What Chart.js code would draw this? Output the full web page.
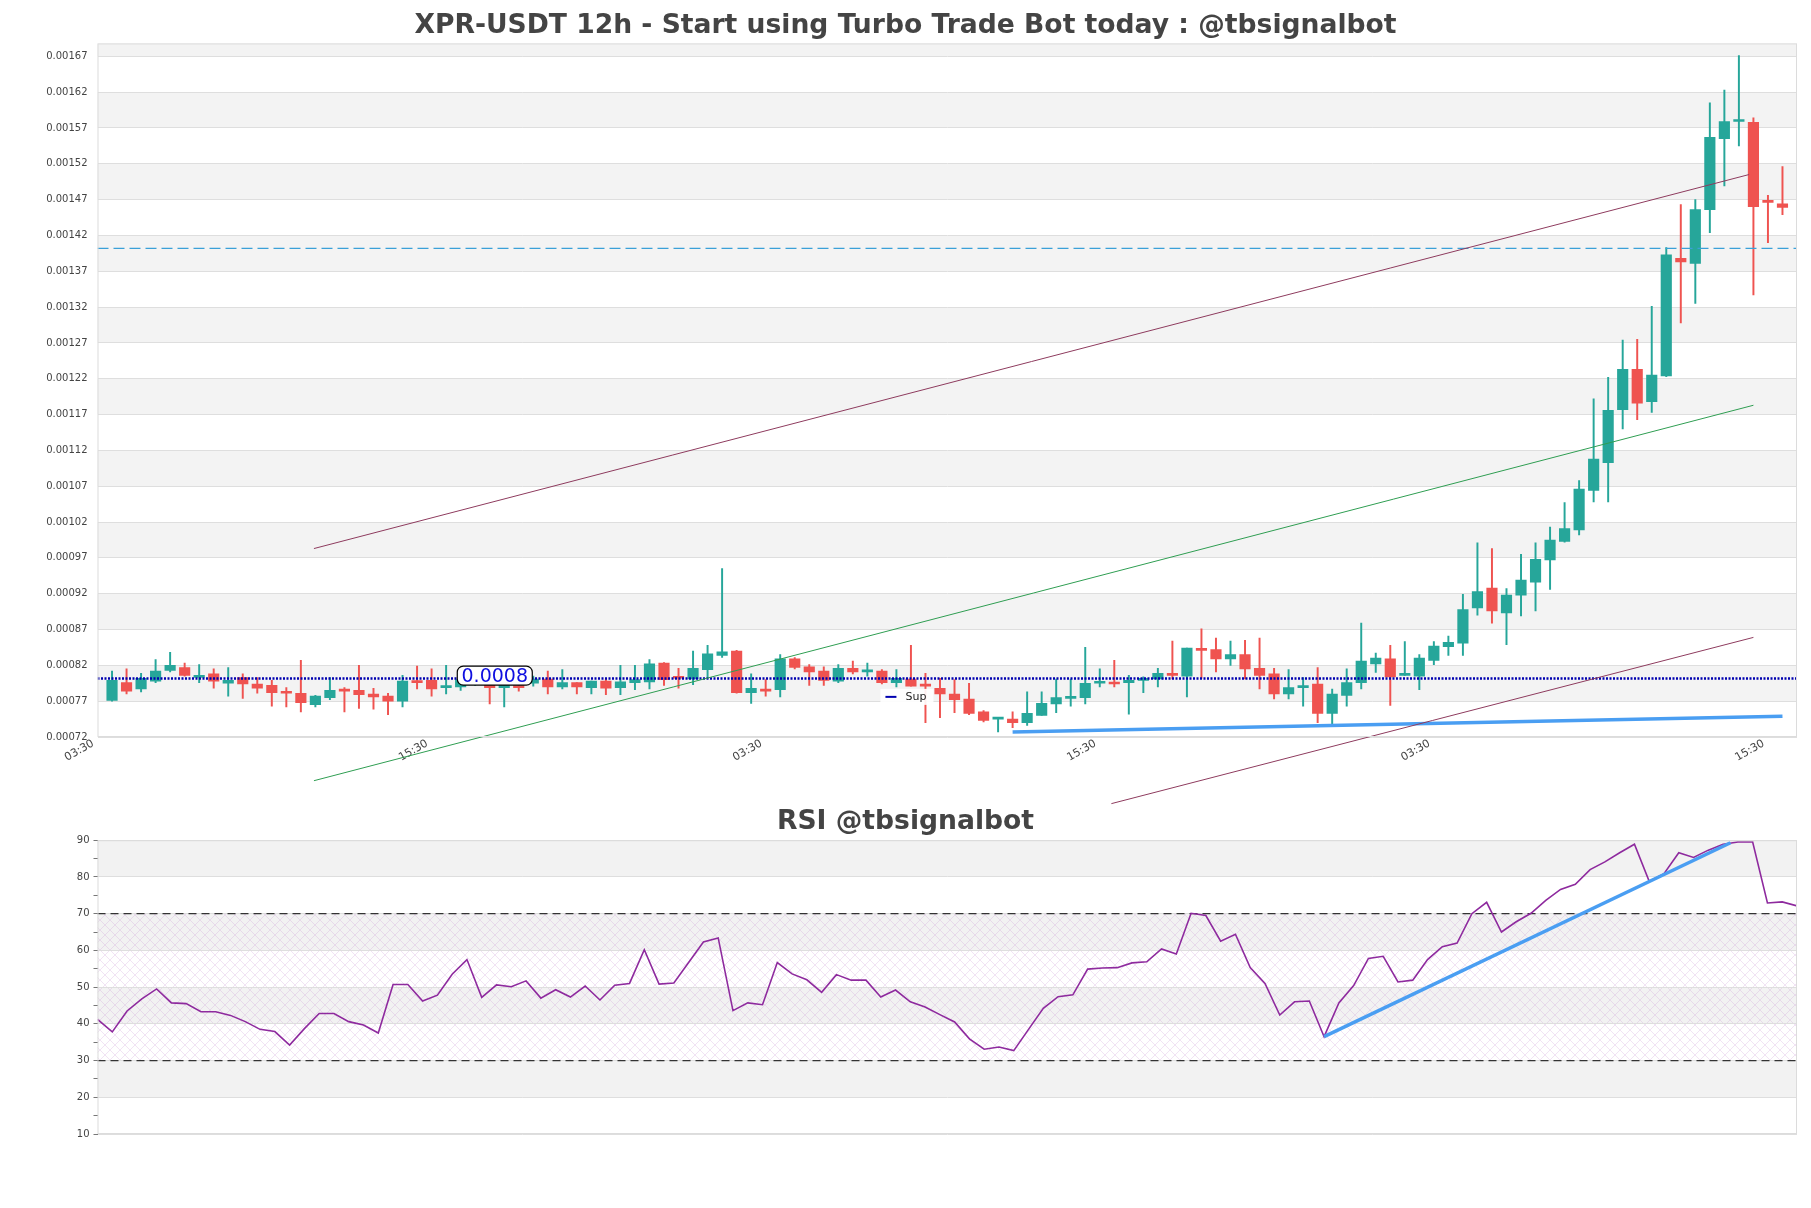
<!DOCTYPE html>
<html>
<head>
<meta charset="utf-8">
<script src="https://cdn.jsdelivr.net/npm/chart.js@4.4.1/dist/chart.umd.min.js"></script>
<style>
body{margin:0;background:#fff;width:1811px;height:1208px;overflow:hidden;position:relative}
canvas{position:absolute;left:0}
#price{top:0}
#rsi{top:790px}
</style>
</head>
<body>
<canvas id="price" width="1811" height="812"></canvas>
<canvas id="rsi" width="1811" height="418"></canvas>
<script>
// candle data (12h)
const opens = [0.000771,0.000796,0.000787,0.000798,0.000813,0.000817,0.000803,0.000808,0.000795,0.000803,
  0.000794,0.000792,0.000782,0.000781,0.000765,0.000775,0.000785,0.000785,0.000780,0.000777,
  0.000770,0.000798,0.000799,0.000789,0.000790,0.000796,0.000792,0.000789,0.000790,0.000795,
  0.000801,0.000790,0.000796,0.000789,0.000798,0.000789,0.000796,0.000797,0.000823,0.000803,
  0.000801,0.000814,0.000834,0.000840,0.000782,0.000787,0.000786,0.000829,0.000818,0.000812,
  0.000798,0.000816,0.000811,0.000812,0.000796,0.000801,0.000793,0.000788,0.000780,0.000773,
  0.000755,0.000745,0.000745,0.000740,0.000750,0.000766,0.000774,0.000775,0.000795,0.000796,
  0.000796,0.000799,0.000801,0.000809,0.000805,0.000843,0.000842,0.000829,0.000835,0.000816,
  0.000808,0.000780,0.000789,0.000794,0.000753,0.000778,0.000796,0.000822,0.000829,0.000806,
  0.000805,0.000827,0.000846,0.000851,0.000900,0.000928,0.000893,0.000918,0.000936,0.000967,
  0.000993,0.001009,0.001064,0.001103,0.001177,0.001233,0.001188,0.001224,0.001388,0.001381,
  0.001456,0.001555,0.001579,0.001578,0.001469,0.001464];
const highs = [0.000812,0.000815,0.000809,0.000828,0.000838,0.000823,0.000821,0.000815,0.000817,0.000808,
  0.000803,0.000799,0.000789,0.000827,0.000778,0.000803,0.000789,0.000820,0.000788,0.000781,
  0.000806,0.000819,0.000815,0.000820,0.000808,0.000803,0.000799,0.000799,0.000797,0.000805,
  0.000812,0.000814,0.000796,0.000798,0.000801,0.000820,0.000820,0.000828,0.000824,0.000816,
  0.000840,0.000848,0.000955,0.000841,0.000808,0.000800,0.000835,0.000831,0.000821,0.000818,
  0.000821,0.000826,0.000823,0.000814,0.000814,0.000848,0.000809,0.000802,0.000800,0.000795,
  0.000757,0.000746,0.000755,0.000783,0.000783,0.000801,0.000801,0.000845,0.000815,0.000827,
  0.000806,0.000804,0.000816,0.000854,0.000844,0.000871,0.000858,0.000854,0.000855,0.000858,
  0.000816,0.000814,0.000803,0.000817,0.000787,0.000815,0.000879,0.000837,0.000848,0.000853,
  0.000835,0.000853,0.000861,0.000919,0.000991,0.000983,0.000927,0.000975,0.000991,0.001013,
  0.001047,0.001078,0.001192,0.001222,0.001274,0.001275,0.001321,0.001403,0.001463,0.001470,
  0.001605,0.001623,0.001671,0.001584,0.001476,0.001516];
const lows = [0.000770,0.000780,0.000783,0.000796,0.000811,0.000805,0.000796,0.000788,0.000777,0.000774,
  0.000781,0.000763,0.000762,0.000755,0.000762,0.000772,0.000755,0.000760,0.000759,0.000751,
  0.000762,0.000787,0.000777,0.000780,0.000785,0.000792,0.000766,0.000762,0.000784,0.000791,
  0.000780,0.000787,0.000780,0.000780,0.000779,0.000779,0.000786,0.000787,0.000792,0.000788,
  0.000793,0.000802,0.000831,0.000781,0.000767,0.000777,0.000776,0.000815,0.000792,0.000792,
  0.000796,0.000808,0.000805,0.000794,0.000790,0.000791,0.000740,0.000747,0.000754,0.000751,
  0.000741,0.000727,0.000733,0.000736,0.000750,0.000754,0.000763,0.000766,0.000790,0.000790,
  0.000752,0.000782,0.000790,0.000801,0.000776,0.000802,0.000811,0.000820,0.000801,0.000787,
  0.000773,0.000773,0.000763,0.000740,0.000736,0.000763,0.000787,0.000810,0.000764,0.000806,
  0.000786,0.000821,0.000834,0.000834,0.000890,0.000879,0.000849,0.000889,0.000896,0.000926,
  0.000992,0.001002,0.001048,0.001048,0.001150,0.001163,0.001173,0.001223,0.001298,0.001325,
  0.001424,0.001489,0.001545,0.001337,0.001410,0.001449];
const closes = [0.000799,0.000784,0.000802,0.000812,0.000820,0.000806,0.000806,0.000798,0.000799,0.000794,
  0.000788,0.000782,0.000781,0.000768,0.000777,0.000785,0.000784,0.000779,0.000776,0.000770,
  0.000798,0.000796,0.000787,0.000791,0.000800,0.000800,0.000789,0.000792,0.000789,0.000801,
  0.000790,0.000796,0.000790,0.000798,0.000788,0.000797,0.000800,0.000822,0.000800,0.000802,
  0.000816,0.000836,0.000839,0.000782,0.000788,0.000784,0.000829,0.000817,0.000811,0.000799,
  0.000816,0.000811,0.000813,0.000796,0.000802,0.000791,0.000791,0.000780,0.000772,0.000753,
  0.000743,0.000746,0.000740,0.000753,0.000767,0.000775,0.000776,0.000795,0.000796,0.000794,
  0.000799,0.000801,0.000809,0.000806,0.000844,0.000841,0.000829,0.000835,0.000815,0.000806,
  0.000780,0.000789,0.000790,0.000753,0.000780,0.000796,0.000826,0.000830,0.000804,0.000808,
  0.000830,0.000847,0.000852,0.000898,0.000923,0.000896,0.000918,0.000939,0.000968,0.000995,
  0.001011,0.001066,0.001108,0.001176,0.001233,0.001186,0.001225,0.001393,0.001383,0.001456,
  0.001557,0.001579,0.001581,0.001460,0.001466,0.001459];

const rsiValues = [41.2,37.8,43.5,46.8,49.5,45.7,45.5,43.3,43.3,42.3,
  40.6,38.5,37.9,34.2,38.7,42.8,42.8,40.6,39.7,37.5,
  50.7,50.7,46.2,47.8,53.5,57.5,47.2,50.6,50.1,51.7,
  47.0,49.3,47.3,50.3,46.5,50.5,51.0,60.2,50.8,51.1,
  56.7,62.3,63.4,43.6,45.7,45.2,56.7,53.6,52.0,48.6,
  53.4,51.9,51.9,47.3,49.2,46.0,44.6,42.5,40.5,35.9,
  33.1,33.7,32.7,38.5,44.2,47.4,47.9,54.9,55.2,55.3,
  56.6,56.9,60.4,59.0,70.1,69.5,62.5,64.4,55.3,51.0,
  42.4,46.0,46.2,36.5,45.7,50.4,57.8,58.4,51.4,51.9,
  57.5,61.0,62.0,70.0,73.1,65.0,67.8,70.1,73.6,76.6,
  78.0,82.0,84.1,86.6,88.9,78.8,80.9,86.6,85.3,87.3,
  88.9,89.5,89.5,72.9,73.2,72.1];

// x ticks (candle index) and their labels
const tickIdx = [-1.3, 21.7, 44.7, 67.7, 90.7, 113.7];
const tickText = ['03:30', '15:30', '03:30', '15:30', '03:30', '15:30'];
const priceTicks = [0.00072,0.00077,0.00082,0.00087,0.00092,0.00097,0.00102,0.00107,0.00112,0.00117,
  0.00122,0.00127,0.00132,0.00137,0.00142,0.00147,0.00152,0.00157,0.00162,0.00167];

// drawn lines: [candle index, price]
const upperChannel = [[13.9, 0.000983], [112.7, 0.001505]];
const greenTrend = [[13.9, 0.000659], [113.0, 0.001183]];
const lowerChannel = [[68.8, 0.000627], [113.0, 0.000859]];
const supportTrend = [[62, 0.000727], [115, 0.000749]];
const supLevel = 0.0008015;
const resLevel = 0.001402;
const rsiTrend = [[83, 36.5], [110.5, 89.3]];

const GREEN = '#26a69a', RED = '#ef5350';
const FONT = 'DejaVu Sans';

const colors = opens.map((o, i) => closes[i] >= o ? GREEN : RED);
const bodies = opens.map((o, i) => ({x: i, y: [o, closes[i]]}));
const wicks = opens.map((o, i) => ({x: i, y: [lows[i], highs[i]]}));

function seg(pts, color, width, extra) {
    return Object.assign({
        type: 'line',
        data: pts.map(p => ({x: p[0], y: p[1]})),
        borderColor: color,
        borderWidth: width,
        pointRadius: 0,
        fill: false,
        tension: 0,
        clip: false,
        order: 0
    }, extra || {});
}

// background bands + frame
const priceBands = {
    id: 'priceBands',
    beforeDraw(chart) {
        const {ctx, chartArea: a, scales: {y}} = chart;
        ctx.save();
        ctx.fillStyle = '#f3f3f3';
        for (let lo = 0.00077; lo < y.max; lo += 0.0001) {
            const hi = Math.min(lo + 0.00005, y.max);
            const top = y.getPixelForValue(hi), bot = y.getPixelForValue(lo);
            ctx.fillRect(a.left, top, a.right - a.left, bot - top);
        }
        ctx.restore();
    },
    afterDraw(chart) {
        const {ctx, chartArea: a} = chart;
        ctx.save();
        ctx.strokeStyle = '#dcdcdc';
        ctx.lineWidth = 1;
        ctx.strokeRect(a.left + 0.5, a.top + 0.5, a.right - a.left - 1, a.bottom - a.top - 1);
        ctx.restore();
    }
};

// price label box and the "Sup" legend
const priceNotes = {
    id: 'priceNotes',
    afterDatasetsDraw(chart) {
        const {ctx, scales: {x, y}} = chart;
        ctx.save();
        // label on the support level
        const cx = x.getPixelForValue(26.35), cy = y.getPixelForValue(supLevel) - 3;
        const w = 75, h = 19;
        ctx.beginPath();
        ctx.roundRect(cx - w / 2, cy - h / 2, w, h, 6);
        ctx.fillStyle = '#fff';
        ctx.fill();
        ctx.strokeStyle = '#000';
        ctx.lineWidth = 1.2;
        ctx.stroke();
        ctx.fillStyle = '#1010e0';
        ctx.font = '19px ' + FONT;
        ctx.textAlign = 'center';
        ctx.textBaseline = 'middle';
        ctx.fillText('0.0008', cx, cy + 1);
        // legend
        const lx = x.getPixelForValue(52.9), ly = y.getPixelForValue(0.000776);
        ctx.fillStyle = 'rgba(255,255,255,0.9)';
        ctx.fillRect(lx, ly - 8, 53, 16);
        ctx.strokeStyle = '#0000b0';
        ctx.lineWidth = 2;
        ctx.beginPath();
        ctx.moveTo(lx + 5, ly);
        ctx.lineTo(lx + 16, ly);
        ctx.stroke();
        ctx.fillStyle = '#222';
        ctx.font = '11px ' + FONT;
        ctx.textAlign = 'left';
        ctx.fillText('Sup', lx + 25, ly);
        ctx.restore();
    }
};

new Chart(document.getElementById('price'), {
    type: 'bar',
    data: {
        datasets: [
            {data: bodies, backgroundColor: colors, barThickness: 10.5, minBarLength: 2, grouped: false, order: 1},
            {data: wicks, backgroundColor: colors, barThickness: 1.3, grouped: false, order: 2},
            seg(upperChannel, '#8e3b5e', 1),
            seg(greenTrend, '#2f9e52', 1),
            seg(lowerChannel, '#8e3b5e', 1),
            seg(supportTrend, '#4a9ef2', 3.5),
            seg([[-1, supLevel], [116, supLevel]], '#0000b0', 2.5, {borderDash: [2, 1.5], clip: true}),
            seg([[-1, resLevel], [116, resLevel]], '#3aa0d8', 1.3, {borderDash: [11, 5], clip: true})
        ]
    },
    options: {
        responsive: false,
        animation: false,
        devicePixelRatio: 1,
        layout: {padding: {left: 14, right: 14, top: 0, bottom: 45}},
        plugins: {
            legend: {display: false},
            tooltip: {enabled: false},
            title: {
                display: true,
                text: 'XPR-USDT 12h - Start using Turbo Trade Bot today : @tbsignalbot',
                color: '#444',
                font: {family: FONT, size: 26.6, weight: 'bold'},
                padding: {top: 10, bottom: 1.5}
            }
        },
        scales: {
            x: {
                type: 'linear', min: -1, max: 116, offset: false,
                grid: {display: false, offset: false},
                border: {display: false},
                afterBuildTicks: s => { s.ticks = tickIdx.map(v => ({value: v})); },
                afterFit: s => { s.height = 30; },
                ticks: {
                    autoSkip: false, minRotation: 30, maxRotation: 30, padding: -8,
                    color: '#444', font: {family: FONT, size: 11},
                    callback: v => tickText[tickIdx.indexOf(v)]
                }
            },
            y: {
                min: 0.00072, max: 0.001688,
                afterBuildTicks: s => { s.ticks = priceTicks.map(v => ({value: v})); },
                afterFit: s => { s.width = 83.5; },
                grid: {color: '#dedede', drawTicks: false},
                border: {display: false},
                ticks: {padding: 10, color: '#444', font: {family: FONT, size: 10}, callback: v => v.toFixed(5)}
            }
        }
    },
    plugins: [priceBands, priceNotes]
});

// RSI panel
const rsiBands = {
    id: 'rsiBands',
    beforeDraw(chart) {
        const {ctx, chartArea: a, scales: {y}} = chart;
        ctx.save();
        ctx.fillStyle = '#f2f2f2';
        [[80, 90], [60, 70], [40, 50], [20, 30]].forEach(b => {
            const top = y.getPixelForValue(b[1]), bot = y.getPixelForValue(b[0]);
            ctx.fillRect(a.left, top, a.right - a.left, bot - top);
        });
        const tile = document.createElement('canvas');
        tile.width = 10; tile.height = 10;
        const g = tile.getContext('2d');
        g.strokeStyle = 'rgba(200,150,215,0.38)';
        g.lineWidth = 0.7;
        g.beginPath();
        g.moveTo(0, 0); g.lineTo(10, 10);
        g.moveTo(10, 0); g.lineTo(0, 10);
        g.stroke();
        ctx.fillStyle = ctx.createPattern(tile, 'repeat');
        const t = y.getPixelForValue(70), b = y.getPixelForValue(30);
        ctx.fillRect(a.left, t, a.right - a.left, b - t);
        ctx.restore();
    },
    afterDraw: priceBands.afterDraw
};

new Chart(document.getElementById('rsi'), {
    type: 'line',
    data: {
        datasets: [
            seg(rsiValues.map((v, i) => [i, v]), '#8e2a9e', 1.6, {clip: true, order: 1}),
            seg(rsiTrend, '#4a9ef2', 3.5, {order: 0}),
            seg([[0, 70], [115, 70]], '#333', 1.2, {borderDash: [8, 5], order: 2}),
            seg([[0, 30], [115, 30]], '#333', 1.2, {borderDash: [8, 5], order: 2})
        ]
    },
    options: {
        responsive: false,
        animation: false,
        devicePixelRatio: 1,
        layout: {padding: {left: 14, right: 14, top: 0, bottom: 74}},
        plugins: {
            legend: {display: false},
            tooltip: {enabled: false},
            title: {
                display: true,
                text: 'RSI @tbsignalbot',
                color: '#444',
                font: {family: FONT, size: 26.6, weight: 'bold'},
                padding: {top: 16, bottom: 2.3}
            }
        },
        scales: {
            x: {type: 'linear', min: 0, max: 115, display: false},
            y: {
                min: 10, max: 90,
                afterFit: s => { s.width = 83.5; },
                grid: {
                    color: c => c.tick.value % 10 === 0 ? '#dedede' : 'transparent',
                    tickColor: '#777', tickLength: 4
                },
                border: {display: false},
                ticks: {
                    stepSize: 5, padding: 4, color: '#444', font: {family: FONT, size: 10},
                    callback: v => v % 10 === 0 ? v : ''
                }
            }
        }
    },
    plugins: [rsiBands]
});
</script>
</body>
</html>
